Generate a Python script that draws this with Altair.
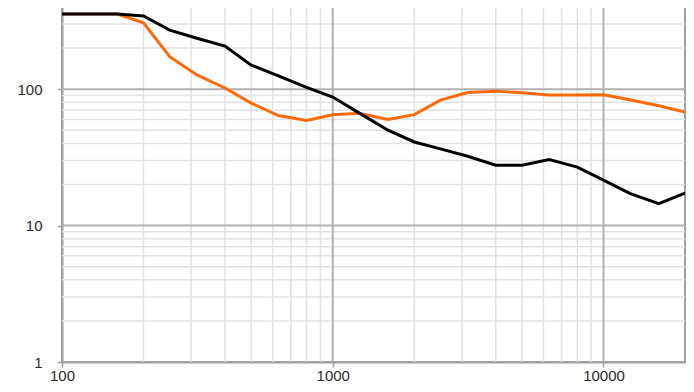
import altair as alt
import pandas as pd

freqs = [100, 125, 160, 200, 250, 315, 400, 500, 630, 800, 1000, 1250, 1600,
         2000, 2500, 3150, 4000, 5000, 6300, 8000, 10000, 12500, 16000, 20000]
black_vals = [355, 355, 355, 344, 271, 236, 207, 150, 125, 103, 87.5, 67, 50,
              41, 36.5, 32.2, 27.7, 27.7, 30.5, 26.8, 21.5, 17.2, 14.5, 17.3]
orange_vals = [355, 355, 355, 306, 173, 127, 102, 79, 64, 59, 65, 66.5, 60,
               65, 83, 94.5, 96.7, 94, 90.5, 90.5, 91, 83.6, 75.5, 68]

x_major = [1000, 10000]
x_minor = [200, 300, 400, 500, 600, 700, 800, 900,
           2000, 3000, 4000, 5000, 6000, 7000, 8000, 9000]
y_major = [10, 100]
y_minor = [2, 3, 4, 5, 6, 7, 8, 9, 20, 30, 40, 50, 60, 70, 80, 90, 200, 300]
x_ticks = [100, 1000, 10000]
y_ticks = [1, 10, 100]

series_names = ["black", "orange"]
series_colors = ["#000000", "#ff6a0d"]

rows = []
for f, b, o in zip(freqs, black_vals, orange_vals):
    rows.append({"f": f, "v": o, "s": "orange", "order": 0})
    rows.append({"f": f, "v": b, "s": "black", "order": 1})
df = pd.DataFrame(rows)

xs = alt.Scale(type="log", domain=[100, 20000], nice=False)
ys = alt.Scale(type="log", domain=[1, 400], nice=False)

common = dict(grid=False, tickSize=5, domainColor="#a0a0a0", domainWidth=2,
              tickColor="#a0a0a0", tickWidth=1.5, labelFont="Arial",
              labelFontSize=15, labelColor="#2a2a2a", labelFlush=False,
              format="d", title=None)
xaxis = alt.Axis(values=x_ticks, labelPadding=1, **common)
yaxis = alt.Axis(values=y_ticks, labelPadding=15, **common)

xminor = alt.Chart(pd.DataFrame({"x": x_minor})).mark_rule(
    color="#e2e2e2", strokeWidth=1.5).encode(x=alt.X("x:Q", scale=xs, axis=xaxis))
yminor = alt.Chart(pd.DataFrame({"y": y_minor})).mark_rule(
    color="#e2e2e2", strokeWidth=1.5).encode(y=alt.Y("y:Q", scale=ys, axis=yaxis))
xmajor = alt.Chart(pd.DataFrame({"x": x_major})).mark_rule(
    color="#b0b0b0", strokeWidth=2).encode(x=alt.X("x:Q", scale=xs, axis=xaxis))
ymajor = alt.Chart(pd.DataFrame({"y": y_major})).mark_rule(
    color="#b0b0b0", strokeWidth=2).encode(y=alt.Y("y:Q", scale=ys, axis=yaxis))

lines = alt.Chart(df).mark_line(strokeWidth=3, clip=True).encode(
    x=alt.X("f:Q", scale=xs, axis=xaxis),
    y=alt.Y("v:Q", scale=ys, axis=yaxis),
    color=alt.Color("s:N", scale=alt.Scale(domain=series_names, range=series_colors),
                    legend=None),
    detail="s:N",
    order=alt.Order("order:Q"),
)

chart = alt.layer(xminor, yminor, xmajor, ymajor, lines).properties(
    width=623, height=355,
    autosize=alt.AutoSizeParams(type="none"),
    padding={"left": 54, "top": -1, "right": 1, "bottom": 22},
).configure_view(stroke="#a0a0a0", strokeWidth=2)

chart.save("out.html", embed_options={"renderer": "svg", "actions": False})
